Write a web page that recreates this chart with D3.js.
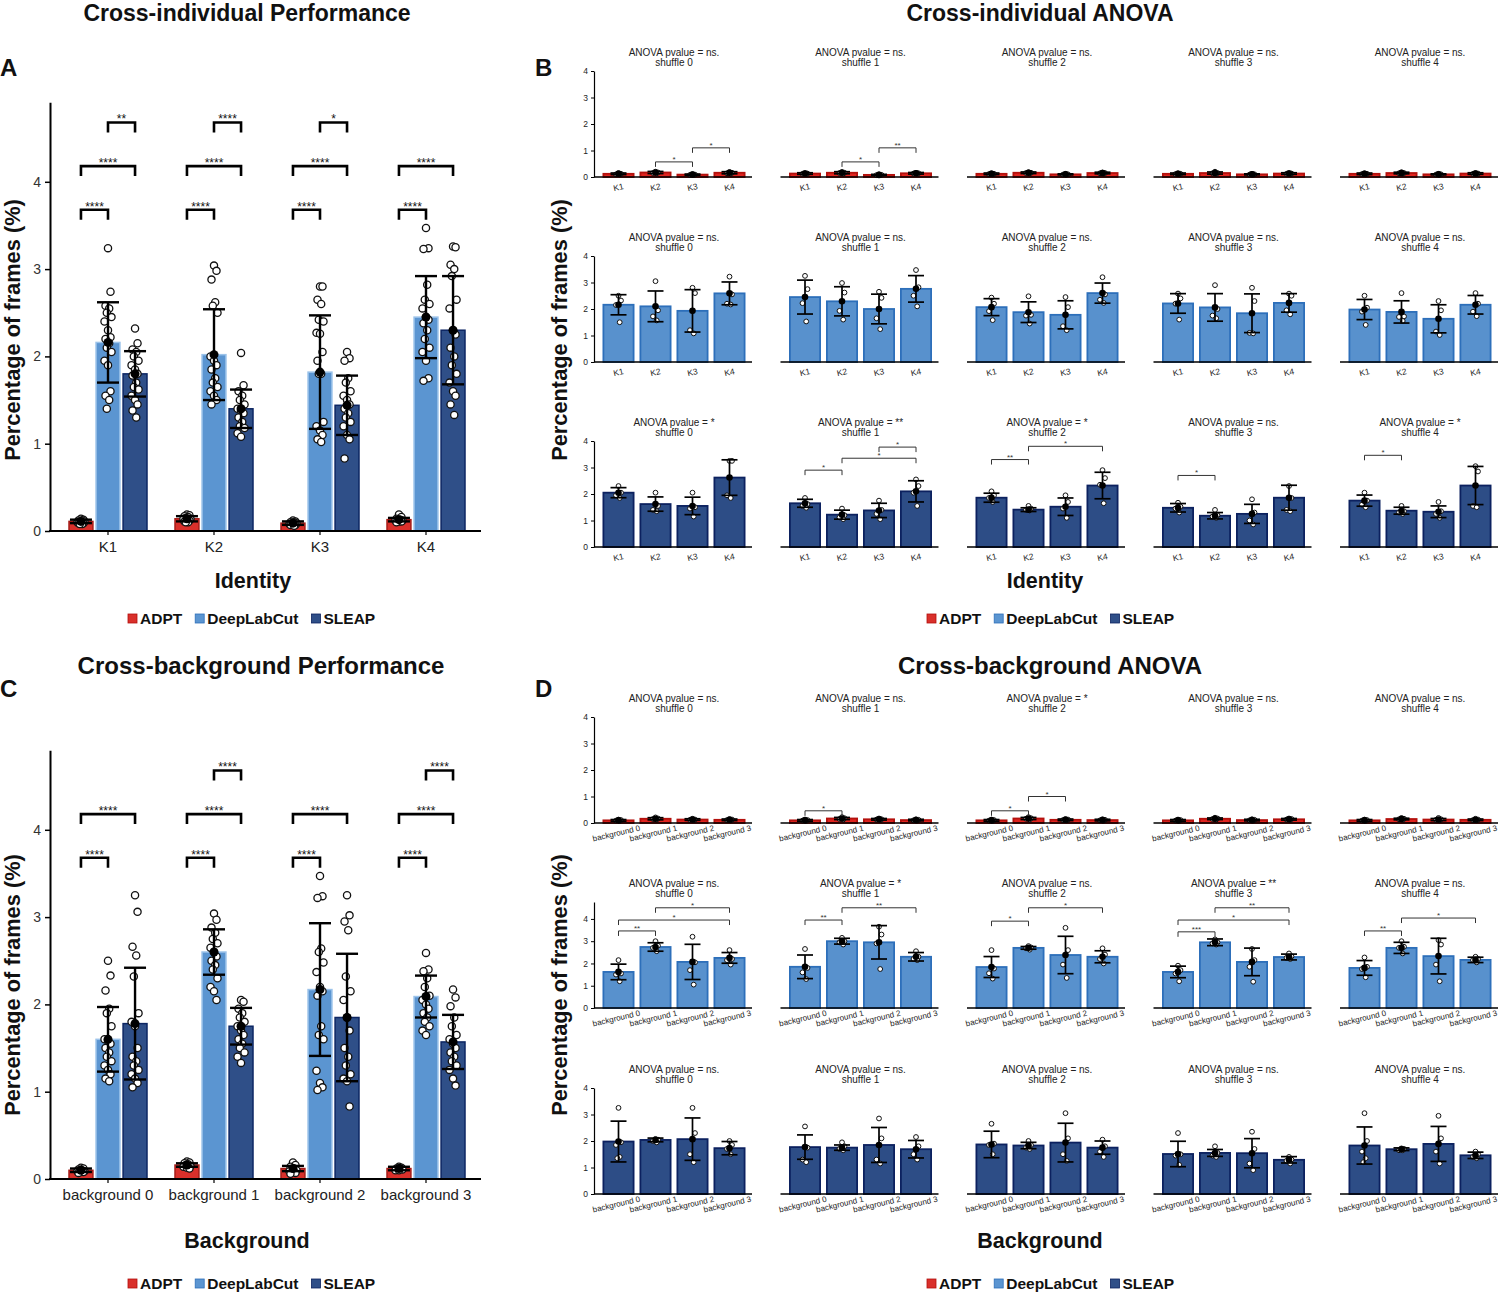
<!DOCTYPE html>
<html>
<head>
<meta charset="utf-8">
<script src="https://cdn.jsdelivr.net/npm/d3@7"></script>
<style>
  body { margin: 0; background: #fff; }
  svg { font-family: "Liberation Sans", Arial, sans-serif; }
</style>
</head>
<body>
<div id="container"></div>
<script>
/* DATA */
const methods = ['ADPT', 'DeepLabCut', 'SLEAP'];
const identities = ['K1', 'K2', 'K3', 'K4'];
const backgrounds = ['background 0', 'background 1', 'background 2', 'background 3'];
const shuffles = ['shuffle 0', 'shuffle 1', 'shuffle 2', 'shuffle 3', 'shuffle 4'];

// panel A : [identity][method]
const idMeans = [[0.11, 2.16, 1.80], [0.14, 2.02, 1.40], [0.09, 1.82, 1.44], [0.13, 2.45, 2.30]];
const idSds = [[0.02, 0.46, 0.26], [0.03, 0.52, 0.22], [0.02, 0.65, 0.34], [0.02, 0.47, 0.62]];
const idPoints = [
  [[0.14, 0.13, 0.12, 0.12, 0.11, 0.11, 0.10, 0.10, 0.09, 0.09, 0.08, 0.08],
   [3.24, 2.74, 2.58, 2.55, 2.50, 2.45, 2.40, 2.30, 2.22, 2.20, 2.15, 2.10, 2.05, 1.95, 1.90, 1.60, 1.55, 1.50, 1.40],
   [2.32, 2.15, 2.08, 2.05, 2.00, 1.95, 1.90, 1.85, 1.80, 1.78, 1.70, 1.65, 1.62, 1.55, 1.50, 1.45, 1.38, 1.30]],
  [[0.19, 0.18, 0.17, 0.16, 0.15, 0.14, 0.14, 0.13, 0.12, 0.11, 0.10, 0.10],
   [3.04, 2.98, 2.88, 2.62, 2.58, 2.50, 2.00, 1.95, 1.90, 1.85, 1.75, 1.70, 1.65, 1.60, 1.55, 1.50, 1.45],
   [2.04, 1.67, 1.60, 1.55, 1.50, 1.45, 1.40, 1.38, 1.35, 1.30, 1.25, 1.20, 1.18, 1.12, 1.08]],
  [[0.12, 0.11, 0.10, 0.10, 0.09, 0.09, 0.08, 0.08, 0.07, 0.07, 0.06],
   [2.80, 2.80, 2.65, 2.60, 2.42, 2.40, 2.27, 2.26, 2.05, 1.95, 1.80, 1.80, 1.25, 1.20, 1.15, 1.10, 1.05, 1.02],
   [2.05, 1.98, 1.95, 1.75, 1.70, 1.60, 1.55, 1.50, 1.45, 1.40, 1.35, 1.30, 1.25, 1.20, 1.10, 1.05, 0.83]],
  [[0.19, 0.16, 0.14, 0.13, 0.13, 0.12, 0.12, 0.11, 0.11, 0.10],
   [3.47, 3.24, 3.23, 2.82, 2.65, 2.60, 2.55, 2.45, 2.42, 2.38, 2.30, 2.20, 2.10, 2.05, 1.95, 1.75, 1.72],
   [3.26, 3.25, 3.05, 3.00, 2.92, 2.65, 2.55, 2.30, 2.25, 2.10, 2.00, 1.90, 1.80, 1.70, 1.60, 1.55, 1.45, 1.33]]
];
// significance labels for pairs [ADPT-DLC, ADPT-SLEAP, DLC-SLEAP]
const idSig = [['****', '****', '**'], ['****', '****', '****'], ['****', '****', '*'], ['****', '****', null]];

// panel C : [background][method]
const bgMeans = [[0.10, 1.60, 1.78], [0.16, 2.60, 1.75], [0.12, 2.17, 1.85], [0.12, 2.09, 1.57]];
const bgSds = [[0.02, 0.37, 0.64], [0.02, 0.26, 0.21], [0.03, 0.76, 0.73], [0.02, 0.24, 0.31]];
const bgPoints = [
  [[0.13, 0.12, 0.11, 0.10, 0.10, 0.09, 0.09, 0.08, 0.08, 0.07],
   [2.50, 2.33, 2.16, 1.95, 1.90, 1.75, 1.60, 1.58, 1.55, 1.50, 1.45, 1.40, 1.35, 1.30, 1.25, 1.20, 1.15, 1.12],
   [3.25, 3.06, 2.66, 2.56, 2.32, 1.90, 1.80, 1.75, 1.50, 1.40, 1.35, 1.30, 1.25, 1.20, 1.15, 1.10, 1.05]],
  [[0.20, 0.19, 0.18, 0.17, 0.16, 0.15, 0.14, 0.13, 0.12],
   [3.04, 2.97, 2.88, 2.82, 2.75, 2.70, 2.65, 2.60, 2.55, 2.50, 2.45, 2.40, 2.30, 2.20, 2.15, 2.05],
   [2.05, 2.03, 1.95, 1.90, 1.85, 1.80, 1.75, 1.70, 1.65, 1.60, 1.55, 1.50, 1.45, 1.40, 1.33]],
  [[0.19, 0.16, 0.14, 0.12, 0.11, 0.10, 0.09, 0.08, 0.07, 0.06],
   [3.47, 3.24, 3.22, 2.64, 2.60, 2.48, 2.37, 2.20, 2.15, 2.10, 1.75, 1.65, 1.60, 1.24, 1.10, 1.05, 1.02],
   [3.25, 3.02, 2.95, 2.85, 2.32, 2.15, 2.05, 1.85, 1.70, 1.50, 1.40, 1.30, 1.20, 1.15, 1.12, 0.83]],
  [[0.14, 0.13, 0.12, 0.12, 0.11, 0.11, 0.10, 0.10],
   [2.59, 2.40, 2.38, 2.30, 2.20, 2.10, 2.05, 2.00, 1.95, 1.90, 1.85, 1.80, 1.75, 1.70, 1.65],
   [2.17, 2.08, 1.98, 1.85, 1.75, 1.65, 1.60, 1.55, 1.50, 1.45, 1.40, 1.35, 1.30, 1.25, 1.15, 1.07]]
];
const bgSig = [['****', '****', null], ['****', '****', '****'], ['****', '****', null], ['****', '****', '****']];

// panel B : [method row][shuffle][identity]
const idAnova = [['ns.', 'ns.', 'ns.', 'ns.', 'ns.'], ['ns.', 'ns.', 'ns.', 'ns.', 'ns.'], ['*', '**', '*', 'ns.', '*']];
const idShufMeans = [
  [[0.12, 0.17, 0.09, 0.16], [0.13, 0.16, 0.08, 0.14], [0.12, 0.16, 0.10, 0.15], [0.12, 0.15, 0.10, 0.13], [0.12, 0.15, 0.10, 0.13]],
  [[2.16, 2.10, 1.93, 2.59], [2.45, 2.29, 2.00, 2.76], [2.07, 1.88, 1.78, 2.60], [2.21, 2.06, 1.84, 2.23], [1.98, 1.89, 1.63, 2.16]],
  [[2.05, 1.62, 1.55, 2.62], [1.65, 1.22, 1.38, 2.10], [1.86, 1.41, 1.52, 2.32], [1.48, 1.18, 1.25, 1.86], [1.75, 1.37, 1.33, 2.32]]
];
const idShufSds = [
  [[0.03, 0.04, 0.02, 0.04], [0.03, 0.04, 0.02, 0.03], [0.03, 0.03, 0.02, 0.03], [0.03, 0.04, 0.02, 0.03], [0.03, 0.03, 0.02, 0.03]],
  [[0.38, 0.58, 0.80, 0.43], [0.64, 0.55, 0.56, 0.50], [0.32, 0.39, 0.53, 0.38], [0.37, 0.52, 0.73, 0.35], [0.38, 0.42, 0.53, 0.35]],
  [[0.19, 0.27, 0.33, 0.67], [0.15, 0.17, 0.27, 0.40], [0.17, 0.07, 0.33, 0.50], [0.16, 0.12, 0.36, 0.47], [0.21, 0.13, 0.22, 0.72]]
];
const idShufPoints = [
  [[[0.15, 0.12, 0.10, 0.10], [0.20, 0.17, 0.15, 0.14], [0.11, 0.09, 0.08, 0.08], [0.19, 0.16, 0.14, 0.13]],
   [[0.15, 0.13, 0.12, 0.11], [0.19, 0.16, 0.15, 0.13], [0.10, 0.08, 0.07, 0.07], [0.16, 0.14, 0.13, 0.12]],
   [[0.14, 0.12, 0.11, 0.10], [0.18, 0.16, 0.15, 0.14], [0.12, 0.10, 0.09, 0.09], [0.17, 0.15, 0.14, 0.13]],
   [[0.14, 0.12, 0.11, 0.10], [0.20, 0.15, 0.14, 0.12], [0.12, 0.10, 0.09, 0.09], [0.15, 0.13, 0.12, 0.11]],
   [[0.14, 0.12, 0.11, 0.10], [0.18, 0.15, 0.14, 0.13], [0.12, 0.10, 0.09, 0.09], [0.15, 0.13, 0.12, 0.11]]],
  [[[2.50, 2.32, 2.15, 1.50], [3.05, 1.95, 1.72, 1.57], [2.80, 2.60, 1.20, 1.08], [3.22, 2.55, 2.20, 2.17]],
   [[3.25, 2.75, 2.22, 1.53], [2.98, 2.62, 1.93, 1.60], [2.65, 2.42, 1.65, 1.24], [3.47, 2.82, 2.50, 2.10]],
   [[2.43, 2.20, 1.92, 1.58], [2.48, 1.78, 1.75, 1.45], [2.45, 2.07, 1.35, 1.20], [3.20, 2.55, 2.35, 2.23]],
   [[2.58, 2.40, 2.20, 1.60], [2.90, 2.00, 1.75, 1.65], [2.80, 2.30, 1.10, 1.08], [2.58, 2.50, 1.95, 1.80]],
   [[2.50, 2.05, 1.90, 1.40], [2.60, 1.72, 1.70, 1.55], [2.30, 1.95, 1.15, 1.02], [2.60, 2.20, 1.90, 1.73]]],
  [[[2.30, 2.05, 1.95, 1.85], [2.05, 1.55, 1.40, 1.35], [2.05, 1.50, 1.45, 1.15], [3.25, 3.25, 1.95, 1.85]],
   [[1.85, 1.62, 1.55, 1.48], [1.45, 1.20, 1.12, 1.05], [1.75, 1.40, 1.25, 1.05], [2.55, 2.30, 2.05, 1.55]],
   [[2.10, 1.95, 1.85, 1.70], [1.55, 1.45, 1.40, 1.38], [1.95, 1.70, 1.45, 1.10], [2.90, 2.60, 2.35, 1.65]],
   [[1.67, 1.52, 1.45, 1.30], [1.40, 1.20, 1.15, 1.10], [1.80, 1.30, 1.00, 0.85], [2.30, 1.85, 1.40, 1.35]],
   [[2.05, 1.75, 1.60, 1.50], [1.55, 1.35, 1.30, 1.25], [1.70, 1.35, 1.25, 1.10], [3.05, 2.85, 1.55, 1.50]]]
];
// [row, shuffle, from, to, height, label]
const idBrackets = [
  [0, 0, 1, 2, 0.57, '*'], [0, 0, 2, 3, 1.10, '*'],
  [0, 1, 1, 2, 0.57, '*'], [0, 1, 2, 3, 1.10, '**'],
  [2, 1, 0, 1, 2.90, '*'], [2, 1, 1, 3, 3.35, '*'], [2, 1, 2, 3, 3.77, '*'],
  [2, 2, 0, 1, 3.30, '**'], [2, 2, 1, 3, 3.80, '*'],
  [2, 3, 0, 1, 2.70, '*'],
  [2, 4, 0, 1, 3.46, '*']
];

// panel D : [method row][shuffle][background]
const bgAnova = [['ns.', 'ns.', '*', 'ns.', 'ns.'], ['ns.', '*', 'ns.', '**', 'ns.'], ['ns.', 'ns.', 'ns.', 'ns.', 'ns.']];
const bgShufMeans = [
  [[0.10, 0.16, 0.13, 0.12], [0.10, 0.17, 0.14, 0.11], [0.10, 0.17, 0.12, 0.11], [0.10, 0.16, 0.11, 0.14], [0.10, 0.15, 0.13, 0.12]],
  [[1.62, 2.74, 2.07, 2.25], [1.85, 3.00, 2.95, 2.30], [1.84, 2.70, 2.38, 2.30], [1.62, 2.95, 2.07, 2.29], [1.80, 2.70, 2.33, 2.16]],
  [[1.98, 2.04, 2.07, 1.73], [1.77, 1.75, 1.85, 1.69], [1.87, 1.83, 1.94, 1.75], [1.51, 1.55, 1.54, 1.29], [1.83, 1.69, 1.89, 1.46]]
];
const bgShufSds = [
  [[0.03, 0.04, 0.03, 0.03], [0.03, 0.04, 0.03, 0.03], [0.03, 0.04, 0.03, 0.03], [0.03, 0.03, 0.03, 0.03], [0.03, 0.03, 0.04, 0.03]],
  [[0.35, 0.19, 0.79, 0.24], [0.53, 0.13, 0.75, 0.19], [0.47, 0.06, 0.84, 0.27], [0.26, 0.15, 0.62, 0.13], [0.33, 0.25, 0.80, 0.12]],
  [[0.77, 0.07, 0.80, 0.25], [0.46, 0.10, 0.66, 0.33], [0.50, 0.12, 0.73, 0.25], [0.48, 0.13, 0.55, 0.12], [0.70, 0.05, 0.66, 0.12]]
];
const bgShufPoints = [
  [[[0.13, 0.11, 0.09, 0.08], [0.21, 0.17, 0.15, 0.13], [0.16, 0.13, 0.12, 0.11], [0.15, 0.13, 0.11, 0.10]],
   [[0.13, 0.11, 0.09, 0.08], [0.22, 0.18, 0.15, 0.13], [0.17, 0.14, 0.13, 0.12], [0.14, 0.12, 0.10, 0.09]],
   [[0.13, 0.11, 0.09, 0.08], [0.22, 0.18, 0.16, 0.13], [0.15, 0.13, 0.11, 0.10], [0.14, 0.12, 0.10, 0.09]],
   [[0.13, 0.11, 0.09, 0.08], [0.20, 0.17, 0.15, 0.13], [0.14, 0.12, 0.10, 0.09], [0.17, 0.15, 0.13, 0.12]],
   [[0.13, 0.11, 0.09, 0.08], [0.19, 0.16, 0.14, 0.12], [0.19, 0.14, 0.12, 0.10], [0.16, 0.13, 0.11, 0.10]]],
  [[[2.15, 1.55, 1.50, 1.20], [3.00, 2.80, 2.70, 2.55], [3.20, 2.05, 1.70, 1.05], [2.60, 2.20, 2.15, 1.95]],
   [[2.65, 1.80, 1.60, 1.30], [3.15, 3.00, 2.95, 2.85], [3.65, 3.30, 2.90, 1.75], [2.55, 2.30, 2.20, 2.15]],
   [[2.60, 1.77, 1.56, 1.32], [2.78, 2.72, 2.68, 2.62], [3.60, 2.60, 1.95, 1.35], [2.68, 2.40, 2.20, 2.00]],
   [[1.90, 1.70, 1.55, 1.20], [3.08, 2.95, 2.90, 2.85], [2.65, 2.15, 1.85, 1.18], [2.45, 2.32, 2.25, 2.20]],
   [[2.27, 1.85, 1.75, 1.38], [3.00, 2.75, 2.70, 2.45], [3.05, 2.85, 1.95, 1.20], [2.30, 2.20, 2.15, 2.05]]],
  [[[3.25, 1.95, 1.85, 1.40, 1.35], [2.08, 2.05, 2.00, 1.95], [3.25, 2.30, 1.50, 1.20], [2.00, 1.85, 1.70, 1.50]],
   [[2.55, 1.75, 1.30, 1.20], [1.95, 1.80, 1.70, 1.65], [2.85, 2.10, 1.30, 1.15], [2.15, 1.80, 1.50, 1.30]],
   [[2.65, 1.90, 1.85, 1.50], [2.00, 1.85, 1.75, 1.70], [3.05, 2.10, 1.50, 1.25], [2.05, 1.80, 1.60, 1.40]],
   [[2.30, 1.50, 1.45, 1.10], [1.80, 1.55, 1.45, 1.40], [2.35, 1.70, 1.15, 0.90], [1.40, 1.30, 1.25, 1.15]],
   [[3.05, 2.00, 1.60, 1.35, 1.20], [1.72, 1.70, 1.65, 1.65], [2.95, 2.10, 1.60, 1.15], [1.60, 1.50, 1.40, 1.35]]]
];
const bgBrackets = [
  [0, 1, 0, 1, 0.46, '*'],
  [0, 2, 0, 1, 0.46, '*'], [0, 2, 1, 2, 1.00, '*'],
  [1, 0, 0, 1, 3.46, '**'], [1, 0, 0, 3, 3.95, '*'], [1, 0, 1, 3, 4.50, '*'],
  [1, 1, 0, 1, 3.95, '**'], [1, 1, 1, 3, 4.50, '**'],
  [1, 2, 0, 1, 3.90, '*'], [1, 2, 1, 3, 4.50, '*'],
  [1, 3, 0, 1, 3.42, '***'], [1, 3, 0, 3, 3.95, '*'], [1, 3, 1, 3, 4.50, '**'],
  [1, 4, 0, 1, 3.46, '**'], [1, 4, 1, 3, 4.04, '*']
];

/* STYLE */
const fills = ['#d9302b', '#5b95d1', '#2f4f88'];
const bigEdges = ['#a51c18', '#9cc3ea', '#0d2663'];
const smallFills = ['#e0241f', '#5891cd', '#2d4d86'];
const smallEdges = ['#b3110d', '#2d6fba', '#0c215f'];
const offsets = [0, 2.5, -2.5, 1.2, -1.2, 3.5, -3.5];

const svg = d3.select('#container').append('svg')
  .attr('width', 1500).attr('height', 1293);

function bold(x, y, txt, size, anchor = 'middle') {
  return svg.append('text').attr('x', x).attr('y', y).attr('text-anchor', anchor)
    .attr('font-size', size).attr('font-weight', 'bold').attr('fill', '#111').text(txt);
}

function yLabel(x, yc) {
  svg.append('text').attr('transform', `translate(${x},${yc}) rotate(-90)`).attr('text-anchor', 'middle')
    .attr('font-size', 21.8).attr('font-weight', 'bold').attr('fill', '#111').text('Percentage of frames (%)');
}

function legend(x0, yc) {
  let x = x0;
  methods.forEach((m, i) => {
    svg.append('rect').attr('x', x).attr('y', yc - 5).attr('width', 9).attr('height', 9)
      .attr('fill', fills[i]).attr('stroke', smallEdges[i]).attr('stroke-width', 0.8);
    const t = bold(x + 12, yc + 5, m, 15.5, 'start');
    x += 12 + t.node().getComputedTextLength() + 13;
  });
}

/* BIG PANELS (A, C) */
function performance(cats, means, sds, pts, sigs, zeroY) {
  const g = svg.append('g');
  const y = d3.scaleLinear().domain([0, 4.91]).range([zeroY, zeroY - 4.91 * 87.3]);
  const x = d3.scaleBand().domain(cats).range([55, 479]).paddingInner(0.25).paddingOuter(0.125);
  const xm = d3.scaleBand().domain(methods).range([0, x.bandwidth()]).paddingInner(0.06);
  const bars = [];
  cats.forEach((c, i) => methods.forEach((m, j) => bars.push({ c, m, j, mean: means[i][j], sd: sds[i][j], pts: pts[i][j] })));
  const cx = d => x(d.c) + xm(d.m) + xm.bandwidth() / 2;

  g.selectAll('rect.bar').data(bars).join('rect').attr('class', 'bar')
    .attr('x', d => x(d.c) + xm(d.m) + 0.75).attr('width', xm.bandwidth() - 1.5)
    .attr('y', d => y(d.mean)).attr('height', d => zeroY - y(d.mean))
    .attr('fill', d => fills[d.j]).attr('stroke', d => bigEdges[d.j]).attr('stroke-width', 1.5);

  const dots = bars.flatMap(d => d.pts.map((v, k) => ({ x: cx(d) + offsets[k % offsets.length], v })));
  g.selectAll('circle.pt').data(dots).join('circle').attr('class', 'pt')
    .attr('cx', d => d.x).attr('cy', d => y(d.v)).attr('r', 3.6)
    .attr('fill', '#fff').attr('stroke', '#111').attr('stroke-width', 1.3);

  const eb = g.selectAll('g.eb').data(bars).join('g').attr('class', 'eb')
    .attr('stroke', '#000').attr('stroke-width', 2.4);
  eb.append('line').attr('x1', cx).attr('x2', cx)
    .attr('y1', d => y(d.mean - d.sd)).attr('y2', d => y(d.mean + d.sd));
  eb.append('line').attr('x1', d => cx(d) - 11).attr('x2', d => cx(d) + 11)
    .attr('y1', d => y(d.mean + d.sd)).attr('y2', d => y(d.mean + d.sd));
  eb.append('line').attr('x1', d => cx(d) - 11).attr('x2', d => cx(d) + 11)
    .attr('y1', d => y(d.mean - d.sd)).attr('y2', d => y(d.mean - d.sd));
  g.selectAll('circle.mean').data(bars).join('circle').attr('class', 'mean')
    .attr('cx', cx).attr('cy', d => y(d.mean)).attr('r', 4.5).attr('fill', '#000');

  // significance brackets
  const pairs = [[0, 1], [0, 2], [1, 2]];
  const levels = [3.68, 4.18, 4.68];
  const sig = [];
  cats.forEach((c, i) => sigs[i].forEach((s, k) => { if (s) sig.push({ c, k, s }); }));
  const bx = (c, j) => x(c) + xm(methods[j]) + xm.bandwidth() / 2;
  g.selectAll('path.sig').data(sig).join('path').attr('class', 'sig')
    .attr('d', d => `M${bx(d.c, pairs[d.k][0])},${y(levels[d.k]) + 10}V${y(levels[d.k])}H${bx(d.c, pairs[d.k][1])}V${y(levels[d.k]) + 10}`)
    .attr('fill', 'none').attr('stroke', '#000').attr('stroke-width', 2.6);
  g.selectAll('text.sig').data(sig).join('text').attr('class', 'sig')
    .attr('x', d => (bx(d.c, pairs[d.k][0]) + bx(d.c, pairs[d.k][1])) / 2)
    .attr('y', d => y(levels[d.k]) + 1).attr('text-anchor', 'middle')
    .attr('font-size', 12).attr('fill', '#111').text(d => d.s);

  // axes
  g.append('g').attr('transform', 'translate(50,0)')
    .call(d3.axisLeft(y).tickValues([0, 1, 2, 3, 4]).tickSize(5).tickSizeOuter(0).tickPadding(4).tickFormat(d3.format('d')))
    .call(a => {
      a.select('.domain').attr('stroke-width', 2);
      a.selectAll('line').attr('stroke-width', 1.5);
      a.selectAll('text').attr('font-size', 14).attr('fill', '#333').attr('font-family', null);
    });
  g.append('line').attr('x1', 49).attr('x2', 481).attr('y1', zeroY).attr('y2', zeroY)
    .attr('stroke', '#000').attr('stroke-width', 2);
  g.append('g').attr('transform', `translate(0,${zeroY})`)
    .call(d3.axisBottom(x).tickSize(4).tickPadding(6))
    .call(a => {
      a.select('.domain').remove();
      a.selectAll('line').attr('stroke-width', 1.2);
      a.selectAll('text').attr('font-size', 15).attr('fill', '#222').attr('font-family', null);
    });
}

/* SMALL MULTIPLES (B, D) */
function anovaGrid(cats, anova, means, sds, pts, brackets, zeros, tops, rotate) {
  const g = svg.append('g');
  zeros.forEach((zeroY, r) => {
    const y = d3.scaleLinear().domain([0, tops[r]]).range([zeroY, zeroY - 106]);
    shuffles.forEach((sh, s) => {
      const x0 = 600 + s * 186.5;
      const x = d3.scaleBand().domain(cats).range([x0, x0 + 148]).paddingInner(0.13).paddingOuter(0.065);
      const cx = c => x(c) + x.bandwidth() / 2;
      const p = g.append('g');
      const bars = cats.map((c, i) => ({ c, mean: means[r][s][i], sd: sds[r][s][i], pts: pts[r][s][i] }));

      p.selectAll('rect').data(bars).join('rect')
        .attr('x', d => x(d.c) + 1).attr('width', x.bandwidth() - 2)
        .attr('y', d => y(d.mean)).attr('height', d => zeroY - y(d.mean))
        .attr('fill', smallFills[r]).attr('stroke', smallEdges[r]).attr('stroke-width', 1.8);

      const dots = bars.flatMap(d => d.pts.map((v, k) => ({ x: cx(d.c) + offsets[k % offsets.length], v })));
      p.selectAll('circle.pt').data(dots).join('circle').attr('class', 'pt')
        .attr('cx', d => d.x).attr('cy', d => y(d.v)).attr('r', 2.4)
        .attr('fill', '#fff').attr('stroke', '#111').attr('stroke-width', 1);
      const eb = p.selectAll('g.eb').data(bars).join('g').attr('class', 'eb')
        .attr('stroke', '#000').attr('stroke-width', 1.7);
      eb.append('line').attr('x1', d => cx(d.c)).attr('x2', d => cx(d.c))
        .attr('y1', d => y(d.mean - d.sd)).attr('y2', d => y(d.mean + d.sd));
      [1, -1].forEach(sg => eb.append('line')
        .attr('x1', d => cx(d.c) - 8).attr('x2', d => cx(d.c) + 8)
        .attr('y1', d => y(d.mean + sg * d.sd)).attr('y2', d => y(d.mean + sg * d.sd)));
      p.selectAll('circle.mean').data(bars).join('circle').attr('class', 'mean')
        .attr('cx', d => cx(d.c)).attr('cy', d => y(d.mean)).attr('r', 3.3).attr('fill', '#000');

      const br = brackets.filter(b => b[0] === r && b[1] === s);
      p.selectAll('path.br').data(br).join('path').attr('class', 'br')
        .attr('d', b => `M${cx(cats[b[2]])},${y(b[4]) + 5}V${y(b[4])}H${cx(cats[b[3]])}V${y(b[4]) + 5}`)
        .attr('fill', 'none').attr('stroke', '#333').attr('stroke-width', 1);
      p.selectAll('text.br').data(br).join('text').attr('class', 'br')
        .attr('x', b => (cx(cats[b[2]]) + cx(cats[b[3]])) / 2).attr('y', b => y(b[4]) + 0)
        .attr('text-anchor', 'middle').attr('font-size', 8).attr('fill', '#333').text(b => b[5]);

      // axes
      p.append('line').attr('x1', x0 - 6).attr('x2', x0 + 152).attr('y1', zeroY).attr('y2', zeroY)
        .attr('stroke', '#000').attr('stroke-width', 1.6);
      if (s === 0) {
        p.append('g').attr('transform', `translate(${x0 - 6},0)`)
          .call(d3.axisLeft(y).tickValues([0, 1, 2, 3, 4]).tickSize(3).tickSizeOuter(0).tickPadding(3).tickFormat(d3.format('d')))
          .call(a => {
            a.select('.domain').attr('stroke-width', 1.2);
            a.selectAll('text').attr('font-size', 8.5).attr('fill', '#222').attr('font-family', null);
          });
      }
      p.selectAll('text.tick').data(cats).join('text').attr('class', 'tick')
        .attr('transform', c => `translate(${cx(c) - (rotate ? 2 : 0)},${zeroY + 11}) rotate(${rotate ? -13 : -12})`)
        .attr('text-anchor', 'middle').attr('dominant-baseline', 'middle')
        .attr('font-size', rotate ? 8 : 8.5).attr('fill', '#222').text(c => c);

      const tx = x0 + 74;
      p.append('text').attr('x', tx).attr('y', zeroY - 121).attr('text-anchor', 'middle')
        .attr('font-size', 10).attr('fill', '#222').text(`ANOVA pvalue = ${anova[r][s]}`);
      p.append('text').attr('x', tx).attr('y', zeroY - 111).attr('text-anchor', 'middle')
        .attr('font-size', 10).attr('fill', '#222').text(sh);
    });
  });
}

/* PANEL A */
bold(247, 21, 'Cross-individual Performance', 23);
bold(0, 76, 'A', 24, 'start');
performance(identities, idMeans, idSds, idPoints, idSig, 531);
bold(253, 588, 'Identity', 21.5);
yLabel(20, 330);
legend(128, 619);

/* PANEL B */
bold(1040, 21, 'Cross-individual ANOVA', 23);
bold(535, 76, 'B', 24, 'start');
anovaGrid(identities, idAnova, idShufMeans, idShufSds, idShufPoints, idBrackets, [177, 362, 547], [4, 4, 4], false);
bold(1045, 588, 'Identity', 21.5);
yLabel(567, 330);
legend(927, 619);

/* PANEL C */
bold(261, 674, 'Cross-background Performance', 24);
bold(0, 697, 'C', 24, 'start');
performance(backgrounds, bgMeans, bgSds, bgPoints, bgSig, 1179);
bold(247, 1248, 'Background', 21.5);
yLabel(20, 985);
legend(128, 1284);

/* PANEL D */
bold(1050, 674, 'Cross-background ANOVA', 24);
bold(535, 697, 'D', 24, 'start');
anovaGrid(backgrounds, bgAnova, bgShufMeans, bgShufSds, bgShufPoints, bgBrackets, [823, 1008, 1194], [4, 4.76, 4], true);
bold(1040, 1248, 'Background', 21.5);
yLabel(567, 985);
legend(927, 1284);
</script>
</body>
</html>
